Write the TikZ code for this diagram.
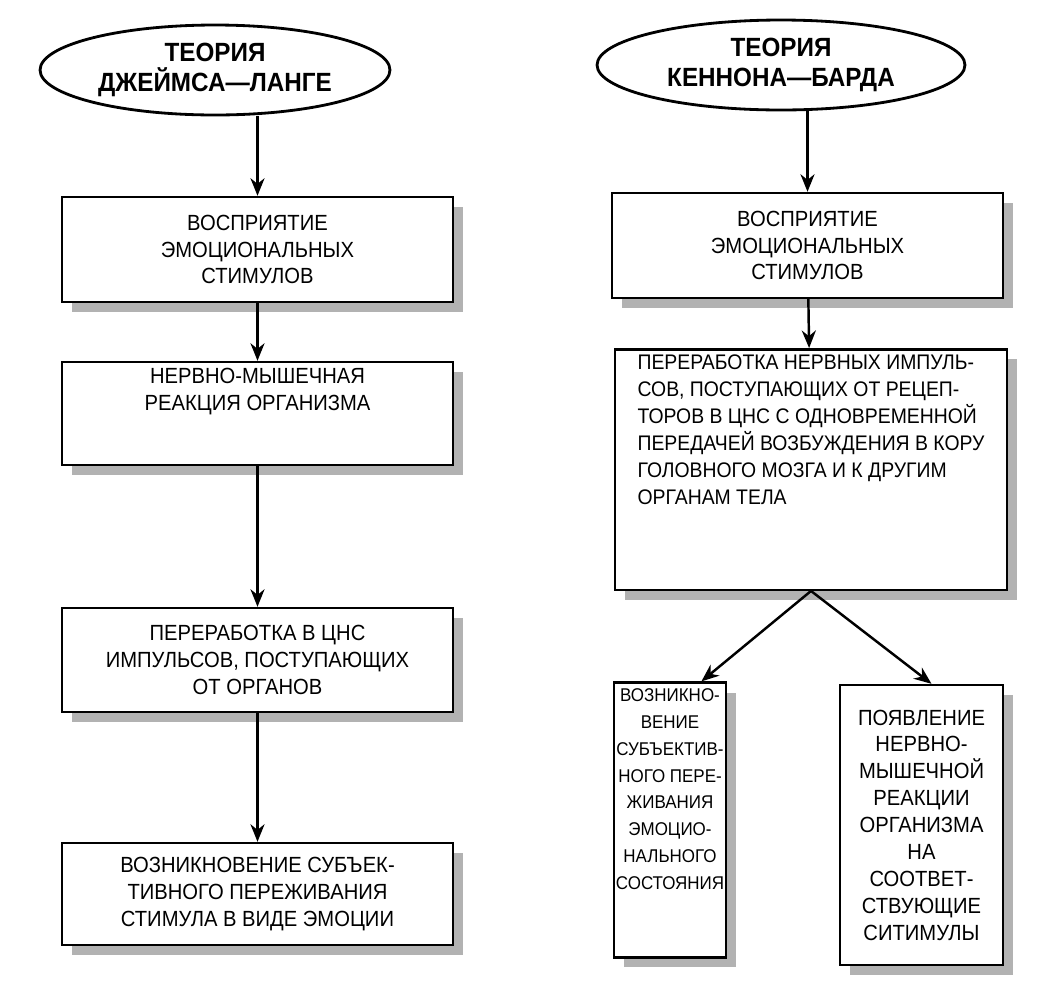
\documentclass[tikz,border=0pt]{standalone}
\usepackage{fontspec}
\setmainfont{Liberation Sans}[FakeStretch=0.92]
\usetikzlibrary{shapes.geometric,shadows,arrows.meta,calc}
\begin{document}
\begin{tikzpicture}[x=0.02cm,y=-0.02cm,
  box/.style={draw,line width=1.4pt,fill=white,align=center,font=\fontsize{12.5}{15.3}\selectfont,
    drop shadow={shadow xshift=0.2cm,shadow yshift=-0.2cm,fill=gray!60,opacity=1}},
  ell/.style={draw,ellipse,line width=1.6pt,fill=white,align=center,font=\bfseries\fontsize{15}{17}\selectfont,inner sep=0pt},
  arr/.style={line width=1.4pt,-{Stealth[length=10pt,width=8pt]}}]
\useasboundingbox (0,0) rectangle (1053,988);
\node[ell,minimum width=7cm,minimum height=1.8cm] (e1) at (215,70) {ТЕОРИЯ\\ДЖЕЙМСА—ЛАНГЕ};
\node[ell,minimum width=7.36cm,minimum height=1.8cm] (e2) at (781,65) {ТЕОРИЯ\\КЕННОНА—БАРДА};
\node[box,minimum width=7.82cm,minimum height=2.1cm] (L1) at (257.5,249.5) {ВОСПРИЯТИЕ\\ЭМОЦИОНАЛЬНЫХ\\СТИМУЛОВ};
\node[box,minimum width=7.82cm,minimum height=2.06cm] (L2) at (257.5,413.5) {НЕРВНО-МЫШЕЧНАЯ\\РЕАКЦИЯ ОРГАНИЗМА\\[12pt]};
\node[box,minimum width=7.82cm,minimum height=2.08cm] (L3) at (257.5,660) {ПЕРЕРАБОТКА В ЦНС\\ИМПУЛЬСОВ, ПОСТУПАЮЩИХ\\ОТ ОРГАНОВ};
\node[box,minimum width=7.82cm,minimum height=2.04cm] (L4) at (257.5,894) {ВОЗНИКНОВЕНИЕ СУБЪЕК-\\ТИВНОГО ПЕРЕЖИВАНИЯ\\СТИМУЛА В ВИДЕ ЭМОЦИИ};
\node[box,minimum width=7.82cm,minimum height=2.1cm] (R1) at (807.5,245.5) {ВОСПРИЯТИЕ\\ЭМОЦИОНАЛЬНЫХ\\СТИМУЛОВ};
\node[box,minimum width=7.84cm,minimum height=4.54cm,align=left,font=\fontsize{12}{15.3}\selectfont] (R2) at (811,469.5) {ПЕРЕРАБОТКА НЕРВНЫХ ИМПУЛЬ-\\СОВ, ПОСТУПАЮЩИХ ОТ РЕЦЕП-\\ТОРОВ В ЦНС С ОДНОВРЕМЕННОЙ\\ПЕРЕДАЧЕЙ ВОЗБУЖДЕНИЯ В КОРУ\\ГОЛОВНОГО МОЗГА И К ДРУГИМ\\ОРГАНАМ ТЕЛА\\[30pt]};
\node[box,minimum width=2.12cm,minimum height=5.4cm,inner xsep=1pt,font=\fontsize{10.5}{15.3}\selectfont] (R3) at (670,820) {ВОЗНИКНО-\\ВЕНИЕ\\СУБЪЕКТИВ-\\НОГО ПЕРЕ-\\ЖИВАНИЯ\\ЭМОЦИО-\\НАЛЬНОГО\\СОСТОЯНИЯ\\[20pt]};
\node[box,minimum width=3.26cm,minimum height=5.6cm] (R4) at (921.5,825) {ПОЯВЛЕНИЕ\\НЕРВНО-\\МЫШЕЧНОЙ\\РЕАКЦИИ\\ОРГАНИЗМА\\НА\\СООТВЕТ-\\СТВУЮЩИЕ\\СИТИМУЛЫ};
\draw[arr] (e1.south -| L1.north) -- (L1.north);
\draw[arr] (L1) -- (L2);
\draw[arr] (L2) -- (L3);
\draw[arr] (L3) -- (L4);
\draw[arr] (e2.south -| R1.north) -- (R1.north);
\draw[arr] (R1) -- (R2);
\draw[arr] (R2.south) -- ($(R3.north)!0.55!(R3.north east)$);
\draw[arr] (R2.south) -- ($(R4.north)+(10,0)$);
\end{tikzpicture}
\end{document}
